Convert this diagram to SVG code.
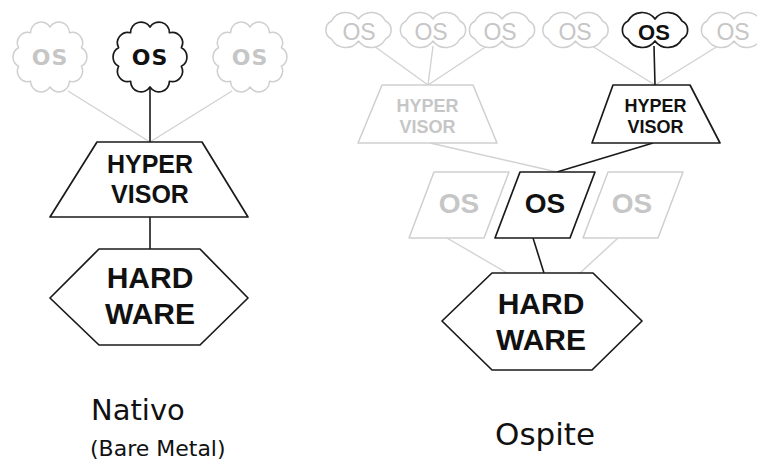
<svg xmlns="http://www.w3.org/2000/svg" xmlns:xlink="http://www.w3.org/1999/xlink" width="757" height="464" viewBox="0 0 757 464">
  <style>
    .bg { fill: #ffffff; }
    .on { fill: #ffffff; stroke: #1a1a1a; stroke-width: 1.7; stroke-linejoin: round; }
    .off { fill: #ffffff; stroke: #cfcfcf; stroke-width: 1.5; stroke-linejoin: round; }
    .ln-on { stroke: #1a1a1a; stroke-width: 1.6; fill: none; }
    .ln-off { stroke: #d2d2d2; stroke-width: 1.4; fill: none; }
    .lbl { font-family: "Liberation Sans", Arial, sans-serif; font-weight: bold; text-anchor: middle; }
    .reg { font-family: "Liberation Sans", Arial, sans-serif; font-weight: normal; text-anchor: middle; }
    .round { font-family: "DejaVu Sans", sans-serif; font-weight: bold; text-anchor: middle; letter-spacing: 1px; }
    .t-on { fill: #111111; }
    .t-off { fill: #c6c6c6; }
    .cap { font-family: "DejaVu Sans", sans-serif; fill: #111111; }
  </style>
  <defs>
    <!-- round cloud: ten scallops around an ellipse -->
    <path id="cloudL" d="M0,-30 A10.5,10.5 0 0 1 19.4,-24.27 A10.5,10.5 0 0 1 31.38,-9.27 A10.5,10.5 0 0 1 31.38,9.27 A10.5,10.5 0 0 1 19.4,24.27 A10.5,10.5 0 0 1 0,30 A10.5,10.5 0 0 1 -19.4,24.27 A10.5,10.5 0 0 1 -31.38,9.27 A10.5,10.5 0 0 1 -31.38,-9.27 A10.5,10.5 0 0 1 -19.4,-24.27 A10.5,10.5 0 0 1 0,-30 Z"/>
    <!-- flat cloud: two scallops top and bottom, one each side -->
    <path id="cloudS" d="M-27,-9 A16,16 0 0 1 0,-11 A16,16 0 0 1 27,-9 A10,10 0 0 1 27,9 A16,16 0 0 1 0,11 A16,16 0 0 1 -27,9 A10,10 0 0 1 -27,-9 Z"/>
  </defs>

  <rect class="bg" x="0" y="0" width="757" height="464"/>

  <!-- connectors -->
  <g id="connectors">
    <!-- native stack -->
    <line class="ln-off" x1="68" y1="91" x2="150" y2="142"/>
    <line class="ln-off" x1="232" y1="91" x2="150" y2="142"/>
    <line class="ln-on" x1="150" y1="86" x2="150" y2="142"/>
    <line class="ln-on" x1="150" y1="217" x2="150" y2="249"/>
    <!-- hosted stack: guests to hypervisors -->
    <line class="ln-off" x1="374" y1="46" x2="428" y2="85"/>
    <line class="ln-off" x1="433" y1="46" x2="428" y2="85"/>
    <line class="ln-off" x1="487" y1="46" x2="428" y2="85"/>
    <line class="ln-off" x1="592" y1="46" x2="655" y2="85"/>
    <line class="ln-off" x1="718" y1="46" x2="655" y2="85"/>
    <line class="ln-on" x1="654" y1="46" x2="655" y2="85"/>
    <!-- hypervisors to host OS -->
    <line class="ln-off" x1="430" y1="143" x2="557" y2="172"/>
    <line class="ln-on" x1="653" y1="143" x2="557" y2="172"/>
    <!-- host OS to hardware -->
    <line class="ln-off" x1="447" y1="238" x2="507" y2="273"/>
    <line class="ln-off" x1="618" y1="238" x2="580" y2="273"/>
    <line class="ln-on" x1="533" y1="238" x2="544" y2="273"/>
  </g>

  <!-- native (bare metal) stack -->
  <g id="n-os-left">
    <use xlink:href="#cloudL" href="#cloudL" class="off" transform="translate(50,57)"/>
    <text class="round t-off" x="50" y="65" font-size="22">OS</text>
  </g>
  <g id="n-os-mid">
    <use xlink:href="#cloudL" href="#cloudL" class="on" transform="translate(150,57)"/>
    <text class="round t-on" x="150" y="65" font-size="22">OS</text>
  </g>
  <g id="n-os-right">
    <use xlink:href="#cloudL" href="#cloudL" class="off" transform="translate(250,57)"/>
    <text class="round t-off" x="250" y="65" font-size="22">OS</text>
  </g>
  <g id="n-hypervisor">
    <polygon class="on" points="97,142 202,142 248,217 50,217"/>
    <text class="lbl t-on" x="150" y="173" font-size="25">HYPER</text>
    <text class="lbl t-on" x="150" y="203" font-size="25">VISOR</text>
  </g>
  <g id="n-hardware">
    <polygon class="on" points="99,249 200,249 248,298 200,345 99,345 50,298"/>
    <text class="lbl t-on" x="150" y="288" font-size="30">HARD</text>
    <text class="lbl t-on" x="150" y="324" font-size="30">WARE</text>
  </g>

  <!-- hosted stack: guest systems -->
  <g id="h-guest-1">
    <use xlink:href="#cloudS" href="#cloudS" class="off" transform="translate(358.5,30)"/>
    <text class="reg t-off" x="359" y="40" font-size="23">OS</text>
  </g>
  <g id="h-guest-2">
    <use xlink:href="#cloudS" href="#cloudS" class="off" transform="translate(433,30)"/>
    <text class="reg t-off" x="431" y="40" font-size="23">OS</text>
  </g>
  <g id="h-guest-3">
    <use xlink:href="#cloudS" href="#cloudS" class="off" transform="translate(502,30)"/>
    <text class="reg t-off" x="500" y="40" font-size="23">OS</text>
  </g>
  <g id="h-guest-4">
    <use xlink:href="#cloudS" href="#cloudS" class="off" transform="translate(575.5,30)"/>
    <text class="reg t-off" x="575" y="40" font-size="23">OS</text>
  </g>
  <g id="h-guest-5">
    <use xlink:href="#cloudS" href="#cloudS" class="on" transform="translate(655,30)"/>
    <text class="lbl t-on" x="654" y="40" font-size="22">OS</text>
  </g>
  <g id="h-guest-6">
    <use xlink:href="#cloudS" href="#cloudS" class="off" transform="translate(734,30)"/>
    <text class="reg t-off" x="733" y="40" font-size="23">OS</text>
  </g>

  <!-- hosted stack: hypervisors -->
  <g id="h-hypervisor-1">
    <polygon class="off" points="382,85 473,85 497,143 358,143"/>
    <text class="lbl t-off" x="427.5" y="112" font-size="18">HYPER</text>
    <text class="lbl t-off" x="427.5" y="133" font-size="18">VISOR</text>
  </g>
  <g id="h-hypervisor-2">
    <polygon class="on" points="613,85 690,85 720,143 592,143"/>
    <text class="lbl t-on" x="655.5" y="112" font-size="18">HYPER</text>
    <text class="lbl t-on" x="655.5" y="133" font-size="18">VISOR</text>
  </g>

  <!-- hosted stack: host systems -->
  <g id="h-host-1">
    <polygon class="off" points="434,172 509,172 484,238 409,238"/>
    <text class="lbl t-off" x="459" y="213" font-size="28">OS</text>
  </g>
  <g id="h-host-2">
    <polygon class="on" points="520,172 595,172 570,238 495,238"/>
    <text class="lbl t-on" x="545" y="213" font-size="28">OS</text>
  </g>
  <g id="h-host-3">
    <polygon class="off" points="608,172 683,172 658,238 583,238"/>
    <text class="lbl t-off" x="632" y="213" font-size="28">OS</text>
  </g>

  <!-- hosted stack: hardware -->
  <g id="h-hardware">
    <polygon class="on" points="492,273 593,273 642,321 592,370 492,370 442,321"/>
    <text class="lbl t-on" x="541" y="314" font-size="30">HARD</text>
    <text class="lbl t-on" x="541" y="350" font-size="30">WARE</text>
  </g>

  <!-- captions -->
  <g id="captions">
    <text class="cap" x="91" y="420" font-size="29">Nativo</text>
    <text class="cap" x="90" y="456" font-size="22">(Bare Metal)</text>
    <text class="cap" x="495" y="445" font-size="31">Ospite</text>
  </g>
</svg>
